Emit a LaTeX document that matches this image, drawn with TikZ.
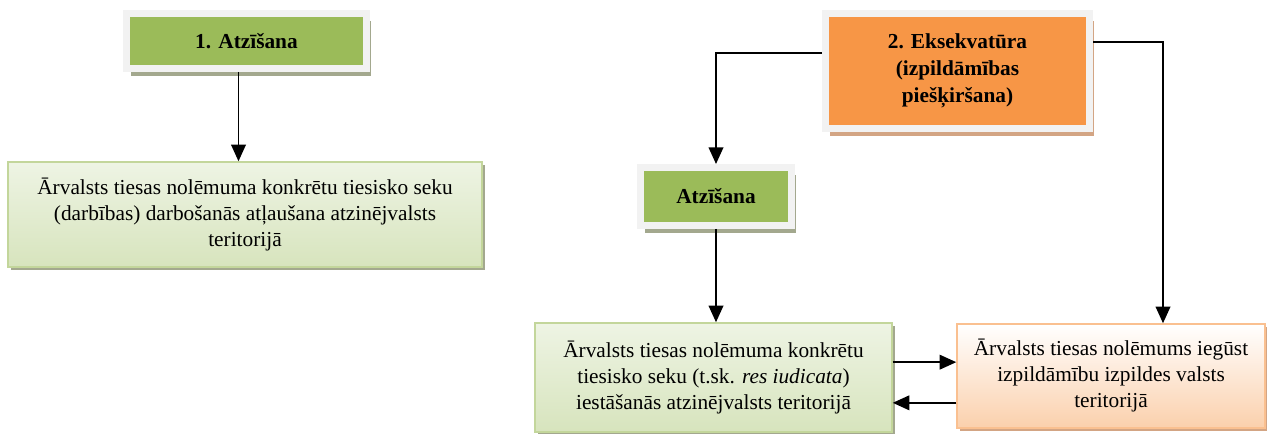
\documentclass[tikz,border=0pt]{standalone}
\usepackage{fontspec}
\setmainfont{Liberation Serif}
\usetikzlibrary{arrows.meta,shadows}
\definecolor{titlegreen}{HTML}{9BBB59}
\definecolor{titleorange}{HTML}{F79646}
\definecolor{framegray}{HTML}{F2F2F2}
\definecolor{greenshade}{HTML}{A3A88E}
\definecolor{orangeshade}{HTML}{D3A584}
\definecolor{greenline}{HTML}{C3D69B}
\definecolor{greentop}{HTML}{EEF4E4}
\definecolor{greenbottom}{HTML}{D7E4BD}
\definecolor{orangeline}{HTML}{FAC090}
\definecolor{orangebottom}{HTML}{FBD0AC}
\tikzset{
  titlebox/.style={rectangle, draw=framegray, line width=5.25pt, inner sep=0pt,
                   font=\fontsize{16}{20.25}\selectfont\bfseries, align=center},
  textbox/.style={rectangle, line width=1.1pt, inner sep=0pt,
                  font=\fontsize{16}{19.5}\selectfont, align=center},
  greentitle/.style={fill=titlegreen,
                     drop shadow={shadow xshift=3.5pt, shadow yshift=-6pt, fill=greenshade, opacity=1}},
  orangetitle/.style={fill=titleorange,
                      drop shadow={shadow xshift=3.5pt, shadow yshift=-6pt, fill=orangeshade, opacity=1}},
  greenbox/.style={draw=greenline, top color=greentop, bottom color=greenbottom,
                   drop shadow={shadow xshift=2pt, shadow yshift=-2.5pt, fill=greenshade, opacity=1}},
  orangebox/.style={draw=orangeline, top color=white, bottom color=orangebottom,
                    drop shadow={shadow xshift=2pt, shadow yshift=-2.5pt, fill=orangeshade, opacity=1}},
  fwd/.style={-{Triangle[length=12.5pt,width=11pt]}, line width=1.3pt},
}
\begin{document}
\begin{tikzpicture}[x=0.75pt, y=-0.75pt]
  \useasboundingbox (0,0) rectangle (1267,434);

  % recognition branch
  \node[titlebox, greentitle, minimum width=180pt, minimum height=41.25pt] (t1) at (246.5,41) {1. Atzīšana};
  \node[textbox, greenbox, minimum width=355.5pt, minimum height=78.75pt] (b1) at (245,214.5)
    {Ārvalsts tiesas nolēmuma konkrētu tiesisko seku\\(darbības) darbošanās atļaušana atzinējvalsts\\teritorijā};

  % exequatur branch
  \node[titlebox, orangetitle, minimum width=198pt, minimum height=86.25pt] (t2) at (957.5,71)
    {2. Eksekvatūra\\(izpildāmības\\piešķiršana)};
  \node[titlebox, greentitle, minimum width=113.25pt, minimum height=43.5pt] (t3) at (716,196.5) {Atzīšana};
  \node[textbox, greenbox, minimum width=267.75pt, minimum height=81.75pt] (g2) at (713.5,377.5)
    {Ārvalsts tiesas nolēmuma konkrētu\\tiesisko seku (t.sk. \textit{res iudicata})\\iestāšanās atzinējvalsts teritorijā};
  \node[textbox, orangebox, minimum width=231pt, minimum height=78pt] (o2) at (1111,376)
    {Ārvalsts tiesas nolēmums iegūst\\izpildāmību izpildes valsts\\teritorijā};

  \draw[fwd] ([xshift=-6pt]t1.south) -- ([xshift=-6pt]t1.south |- b1.north);
  \draw[fwd] ([yshift=13.5pt]t2.west) -| (t3.north);
  \draw[fwd] ([yshift=21.75pt]t2.east) -| ([xshift=39pt]o2.north);
  \draw[fwd] (t3.south) -- (t3.south |- g2.north);
  \draw[fwd] ([yshift=11.5pt]g2.east) -- ([yshift=11.5pt]g2.east -| o2.west);
  \draw[fwd] ([yshift=-19pt]g2.east -| o2.west) -- ([yshift=-19pt]g2.east);
\end{tikzpicture}
\end{document}
